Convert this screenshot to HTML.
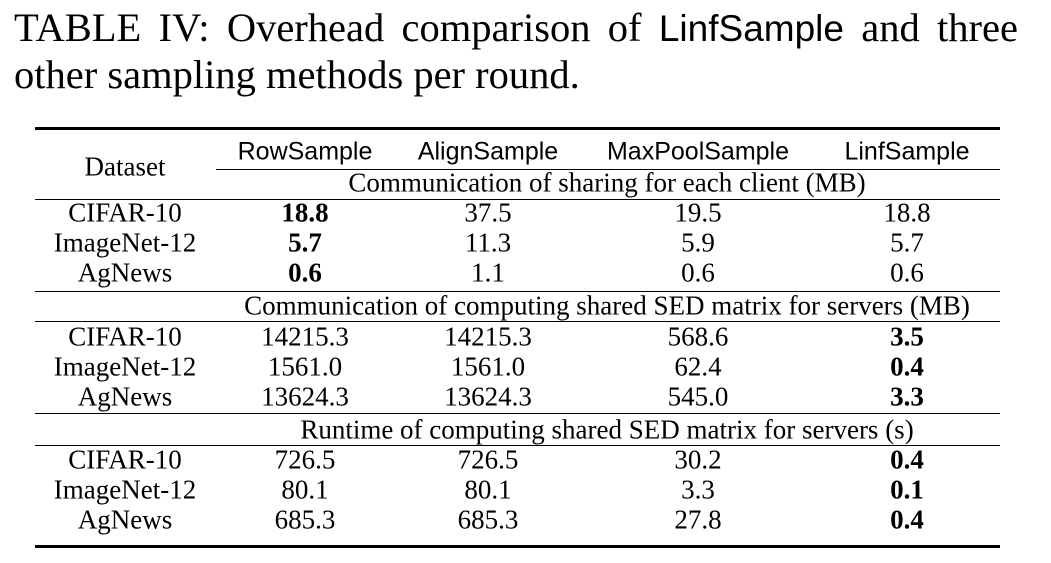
<!DOCTYPE html>
<html><head><meta charset="utf-8"><style>
body{margin:0;width:1051px;height:563px;background:#fff;position:relative;overflow:hidden;font-family:"Liberation Serif",serif;color:#000}
.t{position:absolute;white-space:nowrap;transform:translate(-50%,-50%);font-size:27px;line-height:1}
.s{font-family:"Liberation Sans",sans-serif;font-size:25px}
.b{font-weight:bold}
.r{position:absolute;background:#000}
.cap{position:absolute;left:14px;font-size:40.5px;white-space:nowrap;line-height:1}
.cap span{font-family:"Liberation Sans",sans-serif;font-size:37px}
#c1{width:1004px;text-align:justify;text-align-last:justify;white-space:normal}
</style></head><body>
<div class="cap" id="c1" style="top:8px">TABLE IV: Overhead comparison of <span>LinfSample</span> and three</div>
<div class="cap" style="top:55px">other sampling methods per round.</div>
<div class="r" style="left:35px;top:127px;width:965px;height:2.5px"></div>
<div class="r" style="left:216px;top:169px;width:784px;height:1.3px"></div>
<div class="r" style="left:35px;top:199px;width:965px;height:1.3px"></div>
<div class="r" style="left:35px;top:291px;width:965px;height:1.3px"></div>
<div class="r" style="left:35px;top:321px;width:965px;height:1.3px"></div>
<div class="r" style="left:35px;top:413px;width:965px;height:1.3px"></div>
<div class="r" style="left:35px;top:445px;width:965px;height:1.3px"></div>
<div class="r" style="left:35px;top:545px;width:965px;height:2.5px"></div>
<script>
const cols=[125,305,488,698,907];
const headers=["RowSample","AlignSample","MaxPoolSample","LinfSample"];
const sections=["Communication of sharing for each client (MB)","Communication of computing shared SED matrix for servers (MB)","Runtime of computing shared SED matrix for servers (s)"];
const sectionY=[183,306,430];
const datasets=["CIFAR-10","ImageNet-12","AgNews"];
const rowY=[[213,243,273],[337,367,397],[460,490,520]];
const values=[
[["18.8","37.5","19.5","18.8"],["5.7","11.3","5.9","5.7"],["0.6","1.1","0.6","0.6"]],
[["14215.3","14215.3","568.6","3.5"],["1561.0","1561.0","62.4","0.4"],["13624.3","13624.3","545.0","3.3"]],
[["726.5","726.5","30.2","0.4"],["80.1","80.1","3.3","0.1"],["685.3","685.3","27.8","0.4"]]];
const boldCol=[0,3,3];
function add(txt,x,y,cls,name){
const d=document.createElement('div');
d.className='t '+cls;d.textContent=txt;d.style.left=x+'px';d.style.top=y+'px';


document.body.appendChild(d);}
add("Dataset",cols[0],167,'','dataset-header');
headers.forEach((h,i)=>add(h,cols[i+1],152,'s','column-header'));
sections.forEach((s,si)=>{
add(s,607,sectionY[si],'','section-header');
datasets.forEach((ds,ri)=>{
add(ds,cols[0],rowY[si][ri],'','dataset-label');
values[si][ri].forEach((v,ci)=>add(v,cols[ci+1],rowY[si][ri],ci===boldCol[si]?'b':'','table-cell'));
});});
</script>
</body></html>
